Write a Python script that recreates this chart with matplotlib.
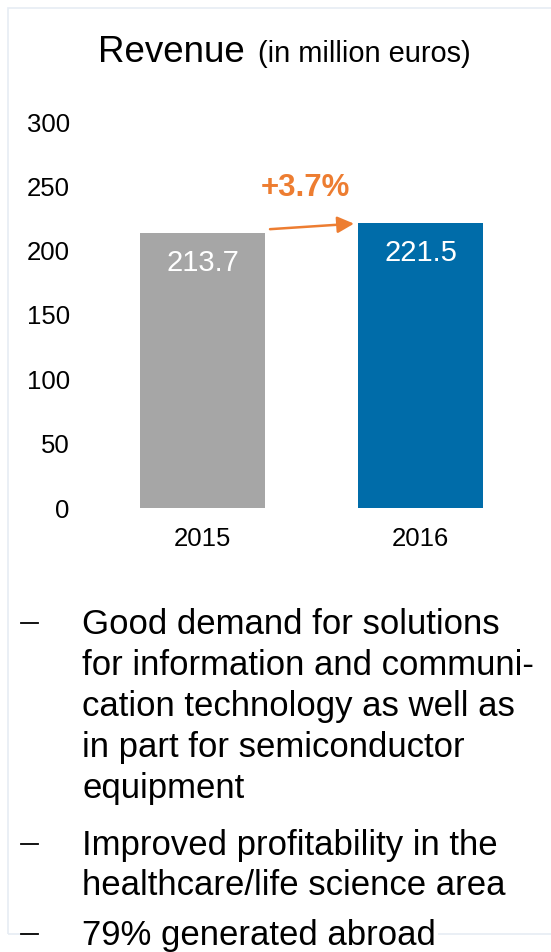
import matplotlib
matplotlib.use("Agg")
import matplotlib.pyplot as plt
from matplotlib.patches import Rectangle
from matplotlib.lines import Line2D

plt.rcParams['font.family'] = ['Liberation Sans', 'DejaVu Sans']

years = ["2015", "2016"]
revenue = [213.7, 221.5]
bar_colors = ["#A6A6A6", "#006CA9"]
growth_label = "+3.7%"
y_ticks = [0, 50, 100, 150, 200, 250, 300]

bullets = [
    ["Good demand for solutions",
     "for information and communi-",
     "cation technology as well as",
     "in part for semiconductor",
     "equipment"],
    ["Improved profitability in the",
     "healthcare/life science area"],
    ["79% generated abroad"],
]

W, H = 551, 952
DPI = 100
fig = plt.figure(figsize=(W / DPI, H / DPI), dpi=DPI)


def fx(px):
    return px / W


def fy(py):
    return 1 - py / H


# faint frame around the panel
fig.add_artist(Rectangle((fx(7.5), fy(933.5)), fx(600) - fx(7.5), fy(7.5) - fy(933.5),
                         transform=fig.transFigure, fill=False,
                         edgecolor="#E6ECF4", linewidth=1.2))
# the bullet text box sits on top of the frame's lower edge
fig.add_artist(Rectangle((fx(27), fy(945)), fx(438) - fx(27), fy(925) - fy(945),
                         transform=fig.transFigure, facecolor="white",
                         edgecolor="none"))

# title
fig.text(fx(98), fy(62), "Revenue", fontsize=26.5, ha="left", va="baseline")
fig.text(fx(258), fy(62), "(in million euros)", fontsize=20.9, ha="left", va="baseline")

# chart axes
ax_left, ax_right = 85, 530
ax_top, ax_bottom = 122, 508
ax = fig.add_axes([fx(ax_left), fy(ax_bottom), fx(ax_right) - fx(ax_left),
                   fy(ax_top) - fy(ax_bottom)])
centre0, step = 202.5, 218.0
ax.set_xlim(-(centre0 - ax_left) / step, (ax_right - centre0) / step)
ax.set_ylim(0, 300)

x = list(range(len(years)))
bars = ax.bar(x, revenue, width=125 / step, color=bar_colors)

for xi, val in zip(x, revenue):
    ax.annotate(f"{val:.1f}", (xi, val), xytext=(0, -21.5), textcoords="offset points",
                ha="center", va="center", color="white", fontsize=21)

for s in ax.spines.values():
    s.set_visible(False)
ax.set_yticks(y_ticks)
ax.set_yticklabels([str(t) for t in y_ticks])
ax.set_xticks(x)
ax.set_xticklabels(years)
ax.tick_params(axis="y", length=0, pad=11, labelsize=18.5)
ax.tick_params(axis="x", length=0, pad=14, labelsize=18.5)

# growth arrow between the bars
ax.annotate("", xy=(1 - 62.5 / step - 4 / step, revenue[1] - 0.5),
            xytext=(62.5 / step + 5 / step, revenue[0] + 3),
            arrowprops=dict(arrowstyle="-|>,head_length=1.0,head_width=0.5",
                        color="#ED7D31", lw=1.8, shrinkA=0, shrinkB=0))
fig.text(fx(305.5), fy(188), growth_label, fontsize=22.5, fontweight="bold",
         color="#ED7D31", ha="center", va="center")

# bullet list
baselines = [[634, 675, 716, 757, 798], [855, 895], [945]]
for lines, ys in zip(bullets, baselines):
    fig.add_artist(Line2D([fx(21), fx(38)], [fy(ys[0] - 11.5), fy(ys[0] - 11.5)],
                          transform=fig.transFigure, color="black", lw=1.3))
    for text, yb in zip(lines, ys):
        fig.text(fx(82), fy(yb), text, fontsize=25, ha="left", va="baseline")

fig.savefig("out.png", dpi=DPI)
